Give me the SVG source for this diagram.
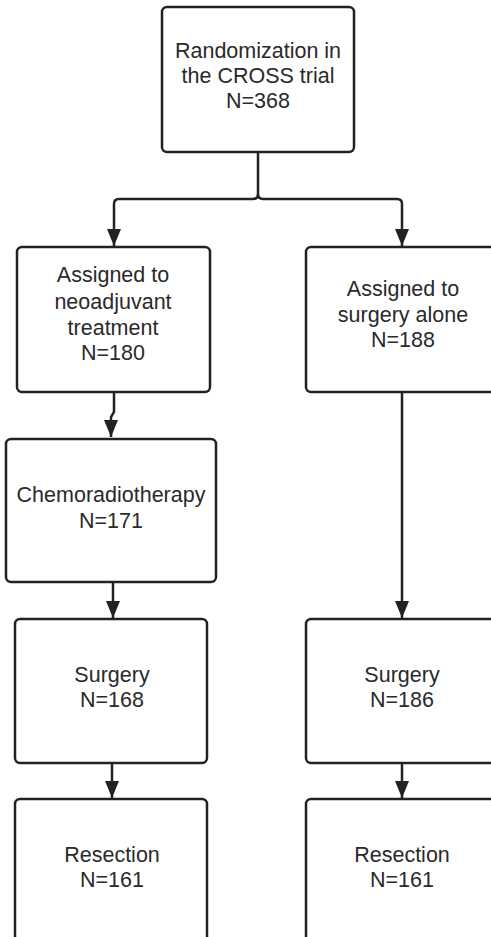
<svg xmlns="http://www.w3.org/2000/svg" width="491" height="937" viewBox="0 0 491 937">
<defs>
<style>
.box{fill:#fff;stroke:#222;stroke-width:2.5}
.t{font-family:"Liberation Sans",Arial,sans-serif;font-size:21.5px;fill:#2a2a2a;text-anchor:middle}
.c{fill:none;stroke:#222;stroke-width:2.5}
</style>
<marker id="ahb" viewBox="0 0 17 14" refX="17" refY="7" markerWidth="17" markerHeight="14" markerUnits="userSpaceOnUse" orient="auto">
<path d="M0,0 L17,7 L0,14 Z" fill="#222"/>
</marker>
</defs>
<rect width="491" height="937" fill="#fff"/>
<g id="connectors">
<path class="c" d="M258,152 V194 Q258,199 253,199 H119 Q114,199 114,204 V246" marker-end="url(#ahb)"/>
<path class="c" d="M258,194 Q258,199 263,199 H397 Q402,199 402,204 V246" marker-end="url(#ahb)"/>
<path class="c" d="M114,392 V412 L111,417 V437" marker-end="url(#ahb)"/>
<path class="c" d="M113,582 V618" marker-end="url(#ahb)"/>
<path class="c" d="M402,392 V618" marker-end="url(#ahb)"/>
<path class="c" d="M112,763 V798" marker-end="url(#ahb)"/>
<path class="c" d="M402,763 V798" marker-end="url(#ahb)"/>
</g>
<g id="randomization">
<rect class="box" x="162" y="7" width="192" height="145" rx="5"/>
<text class="t" x="258" y="57.5">Randomization in</text>
<text class="t" x="258" y="82.5">the CROSS trial</text>
<text class="t" x="258" y="107.5">N=368</text>
</g>
<g id="neoadjuvant">
<rect class="box" x="17" y="247" width="193" height="145" rx="5"/>
<text class="t" x="113" y="282">Assigned to</text>
<text class="t" x="113" y="309">neoadjuvant</text>
<text class="t" x="113" y="335">treatment</text>
<text class="t" x="113" y="360">N=180</text>
</g>
<g id="surgery-alone">
<rect class="box" x="306" y="247" width="193" height="145" rx="5"/>
<text class="t" x="403" y="296">Assigned to</text>
<text class="t" x="403" y="322">surgery alone</text>
<text class="t" x="403" y="347">N=188</text>
</g>
<g id="crt">
<rect class="box" x="6" y="439" width="210" height="143" rx="5"/>
<text class="t" x="111" y="502">Chemoradiotherapy</text>
<text class="t" x="111" y="528">N=171</text>
</g>
<g id="surgery-left">
<rect class="box" x="15" y="619" width="192" height="144" rx="5"/>
<text class="t" x="112" y="682">Surgery</text>
<text class="t" x="112" y="707">N=168</text>
</g>
<g id="surgery-right">
<rect class="box" x="306" y="619" width="193" height="144" rx="5"/>
<text class="t" x="402" y="682">Surgery</text>
<text class="t" x="402" y="707">N=186</text>
</g>
<g id="resection-left">
<rect class="box" x="15" y="799" width="192" height="150" rx="5"/>
<text class="t" x="112" y="862">Resection</text>
<text class="t" x="112" y="887">N=161</text>
</g>
<g id="resection-right">
<rect class="box" x="306" y="799" width="193" height="150" rx="5"/>
<text class="t" x="402" y="862">Resection</text>
<text class="t" x="402" y="887">N=161</text>
</g>
</svg>
